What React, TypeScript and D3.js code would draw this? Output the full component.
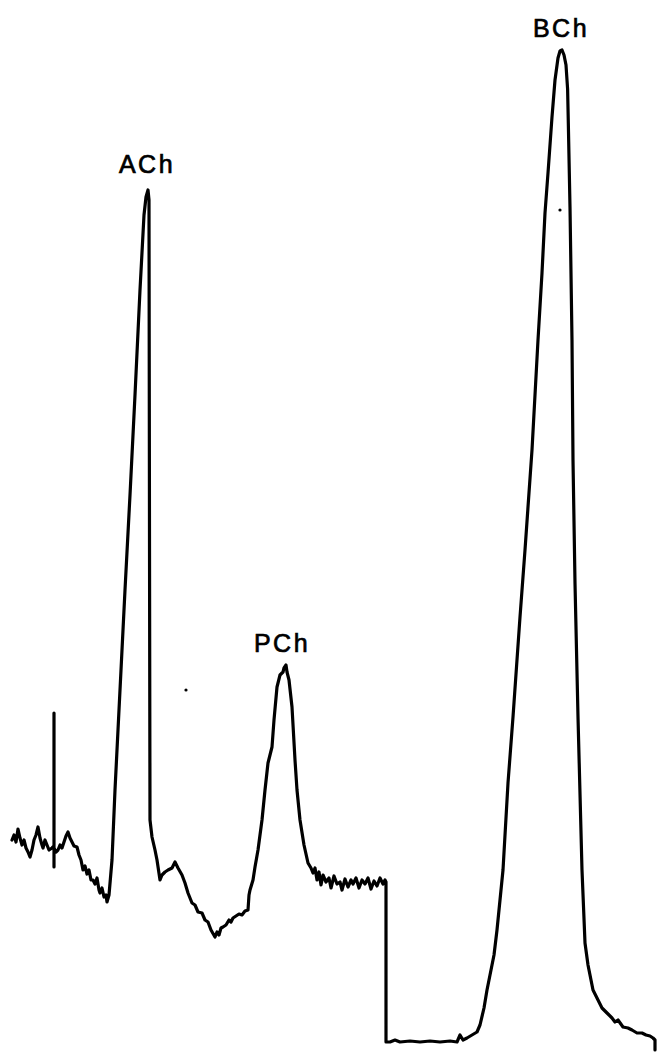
import React from "react";
import * as d3 from "d3";

// Chromatogram trace: [time (min), detector response (mV)]
const baselineTrace: [number, number][] = [
  [0.6, 21.4], [0.7, 21.9], [0.8, 21.2], [0.9, 22.5], [1.0, 21.6], [1.1, 20.9], [1.2, 21.4],
  [1.3, 20.6], [1.4, 20.2], [1.5, 19.7], [1.6, 20.4], [1.7, 21.4], [1.8, 21.9], [1.9, 22.7],
  [2.0, 21.6], [2.1, 20.9], [2.15, 20.6], [2.25, 21.4], [2.35, 20.9], [2.45, 20.4], [2.6, 20.6],
  [2.7, 20.8], [2.7, 34.1], [2.7, 18.7], [2.7, 20.6],
  [2.8, 20.2], [2.9, 20.4], [3.0, 20.9], [3.1, 20.6], [3.2, 21.2], [3.3, 21.8], [3.4, 22.2],
  [3.5, 21.6], [3.6, 21.2], [3.7, 20.8], [3.85, 20.7], [3.95, 19.9], [4.05, 19.4], [4.15, 18.4],
  [4.25, 18.8], [4.35, 18.0], [4.45, 18.4], [4.55, 17.4], [4.65, 17.4], [4.75, 17.0], [4.85, 17.6],
  [4.95, 16.4], [5.0, 16.1], [5.1, 16.6], [5.2, 15.7], [5.3, 15.9], [5.35, 15.2],
];

const achTrace: [number, number][] = [
  [5.45, 15.9], [5.6, 19.4], [5.75, 26.4], [6.0, 36.4], [6.25, 46.4], [6.5, 55.9], [6.75, 65.9],
  [7.0, 76.4], [7.2, 83.9], [7.3, 85.7], [7.4, 86.4], [7.45, 85.4], [7.475, 51.4],
  [7.5, 23.4], [7.6, 21.7], [7.75, 20.4], [7.85, 19.4], [8.0, 17.4], [8.1, 17.9], [8.25, 18.2],
  [8.4, 18.4], [8.6, 18.6], [8.75, 19.2], [8.9, 18.6], [9.1, 17.9], [9.25, 17.1], [9.4, 16.1],
  [9.6, 15.1], [9.75, 14.9], [9.9, 14.2], [10.1, 14.1], [10.25, 13.4], [10.4, 13.2], [10.55, 12.4],
  [10.75, 11.7], [10.85, 12.2], [10.95, 11.9], [11.05, 12.6], [11.15, 12.7], [11.3, 12.9],
  [11.45, 13.4], [11.55, 13.2], [11.65, 13.6], [11.8, 13.8], [11.95, 14.0], [12.1, 13.9],
  [12.25, 14.3], [12.4, 14.4],
];

const pchTrace: [number, number][] = [
  [12.45, 15.9], [12.5, 16.4], [12.65, 17.4], [12.75, 18.7], [12.9, 20.4], [13.1, 23.4],
  [13.25, 26.4], [13.4, 29.1], [13.5, 29.9], [13.6, 30.7], [13.7, 33.4], [13.85, 36.7],
  [14.0, 37.9], [14.15, 38.2], [14.2, 38.6], [14.3, 38.9], [14.35, 38.2], [14.45, 37.4],
  [14.6, 34.7], [14.75, 29.4], [14.85, 26.4], [15.0, 23.4], [15.2, 20.9], [15.4, 19.1],
  [15.55, 18.6], [15.65, 18.1], [15.75, 18.6], [15.85, 17.4], [15.95, 18.2], [16.05, 16.9],
  [16.15, 17.9], [16.3, 17.2], [16.45, 17.6], [16.55, 16.6], [16.7, 17.8], [16.85, 17.0],
  [17.0, 17.2], [17.1, 16.4], [17.25, 17.5], [17.4, 16.7], [17.55, 17.4], [17.65, 17.0],
  [17.8, 17.6], [17.95, 16.6], [18.1, 17.4], [18.25, 17.0], [18.4, 17.6], [18.55, 16.5],
  [18.7, 17.3], [18.85, 16.8], [19.0, 17.6], [19.15, 17.0], [19.25, 17.4], [19.3, 17.2],
];

const attenuatedTrace: [number, number][] = [
  [19.3, 1.2], [19.5, 1.2], [19.75, 1.4], [20.0, 1.2], [20.5, 1.3], [21.0, 1.2], [21.5, 1.3],
  [22.0, 1.2], [22.5, 1.3], [22.85, 1.2], [23.0, 1.9], [23.15, 1.4], [23.35, 1.6], [23.6, 1.9],
  [23.85, 2.2],
];

const bchTrace: [number, number][] = [
  [24.0, 2.9], [24.2, 4.6], [24.35, 6.4], [24.5, 7.9], [24.7, 9.9], [24.85, 12.4], [25.0, 15.4],
  [25.15, 18.4], [25.4, 27.1], [25.65, 33.7], [26.0, 43.7], [26.25, 50.4], [26.6, 60.4],
  [26.9, 71.4], [27.1, 78.1], [27.25, 84.1], [27.4, 88.1], [27.6, 93.7], [27.75, 97.4],
  [27.9, 99.6], [28.0, 100.3], [28.1, 100.4], [28.2, 99.9], [28.3, 98.9], [28.38, 96.5],
  [28.42, 92.7], [28.5, 84.7], [28.6, 71.4], [28.65, 59.4], [28.75, 47.1], [28.9, 33.7],
  [29.1, 18.4], [29.25, 11.1], [29.4, 8.9], [29.65, 6.4], [29.9, 5.4], [30.1, 4.6], [30.35, 4.1],
  [30.6, 3.6], [30.75, 3.2], [30.9, 3.4], [31.15, 2.7], [31.4, 2.6], [31.6, 2.4], [31.85, 2.1],
  [32.1, 2.1], [32.3, 1.9], [32.5, 1.8], [32.65, 1.6], [32.75, 1.4], [32.75, 0.4],
];

const peakLabels = ["ACh", "PCh", "BCh"];
const labelTimes = [7.35, 14.1, 28.05];
const labelValues = [88.1, 40.2, 101.7];

const specks: [number, number][] = [
  [9.3, 36.4],
  [28.0, 84.4],
];

const WIDTH = 660;
const HEIGHT = 1054;

export default function App() {
  const x = d3.scaleLinear().domain([0, 33]).range([0, WIDTH]);
  const y = d3.scaleLinear().domain([0, 105.4]).range([HEIGHT, 0]);

  const trace = [
    ...baselineTrace,
    ...achTrace,
    ...pchTrace,
    ...attenuatedTrace,
    ...bchTrace,
  ];

  const line = d3
    .line<[number, number]>()
    .x((d) => x(d[0]))
    .y((d) => y(d[1]))
    .curve(d3.curveLinear);

  return (
    <svg
      width={WIDTH}
      height={HEIGHT}
      style={{ position: "absolute", left: 0, top: 0, background: "#fff" }}
    >
      <rect x={0} y={0} width={WIDTH} height={HEIGHT} fill="#fff" />
      <path
        d={line(trace) || ""}
        fill="none"
        stroke="#000"
        strokeWidth={3.2}
        strokeLinejoin="round"
        strokeLinecap="round"
      />
      {specks.map((d, i) => (
        <circle key={i} cx={x(d[0])} cy={y(d[1])} r={1.6} fill="#000" />
      ))}
      {peakLabels.map((lab, i) => (
        <text
          key={lab}
          x={x(labelTimes[i])}
          y={y(labelValues[i])}
          textAnchor="middle"
          fontFamily="'Liberation Sans', Arial, sans-serif"
          fontSize={25}
          letterSpacing={2.5}
          fill="#000"
          stroke="#000"
          strokeWidth={0.7}
        >
          {lab}
        </text>
      ))}
    </svg>
  );
}
